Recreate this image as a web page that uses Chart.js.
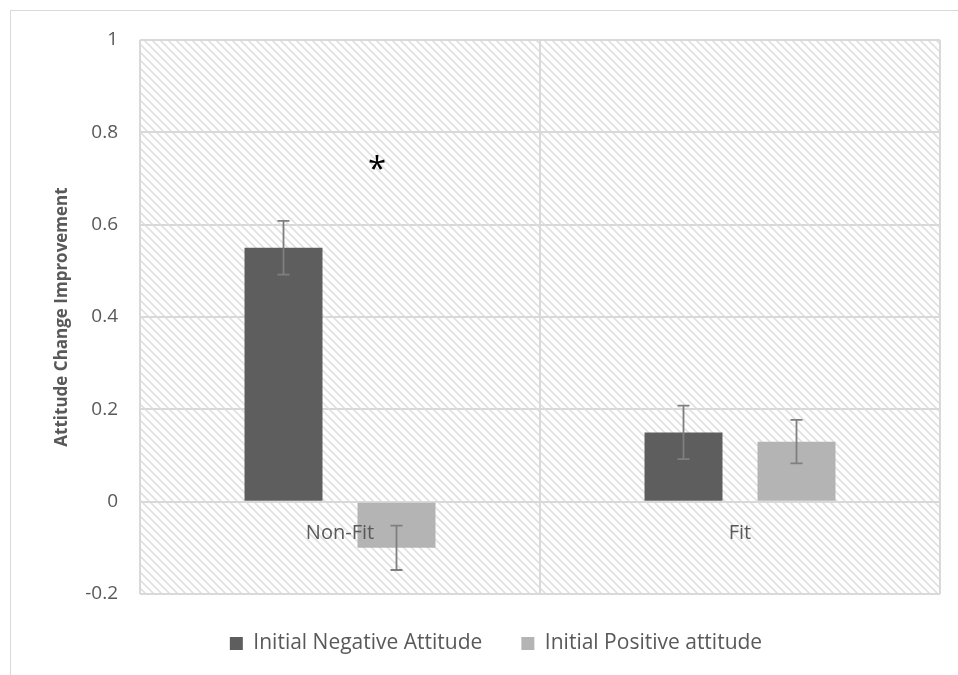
<!DOCTYPE html>
<html>
<head>
<meta charset="utf-8">
<script src="https://cdn.jsdelivr.net/npm/chart.js@4"></script>
<style>
  html, body { margin: 0; padding: 0; background: #fff; }
  #wrap { position: relative; width: 958px; height: 675px; }
</style>
</head>
<body>
<div id="wrap"><canvas id="myChart" width="958" height="675"></canvas></div>
<script>
// groups and means
const categories = ['Non-Fit', 'Fit'];
const negativeMeans = [0.55, 0.15];
const positiveMeans = [-0.1, 0.13];
// error bar half-widths
const negativeErrors = [0.058, 0.058];
const positiveErrors = [0.048, 0.047];
const yTicks = [-0.2, 0, 0.2, 0.4, 0.6, 0.8, 1];
// significance marker above the Non-Fit pair
const sigMarks = [{ category: 0, value: 0.735, text: '*' }];

const textColor = '#595959';
const gridColor = '#d9d9d9';
const fontFamily = "'Open Sans', 'Noto Sans', sans-serif";

// diagonal hatch tile for the plot area
const makeHatch = (ctx) => {
  const tile = document.createElement('canvas');
  tile.width = 8;
  tile.height = 8;
  const t = tile.getContext('2d');
  t.fillStyle = '#ffffff';
  t.fillRect(0, 0, 8, 8);
  t.strokeStyle = '#e0e0e0';
  t.lineWidth = 1.6;
  t.beginPath();
  t.moveTo(-2, -2); t.lineTo(10, 10);
  t.moveTo(-2, 6); t.lineTo(2, 10);
  t.moveTo(6, -2); t.lineTo(10, 2);
  t.stroke();
  return ctx.createPattern(tile, 'repeat');
};

const backdrop = {
  id: 'backdrop',
  beforeDraw(chart) {
    const { ctx, chartArea: a } = chart;
    ctx.save();
    ctx.strokeStyle = gridColor;
    ctx.lineWidth = 1;
    ctx.strokeRect(10.5, 10.5, 1200, 1200);
    ctx.fillStyle = makeHatch(ctx);
    ctx.fillRect(a.left, a.top, a.right - a.left, a.bottom - a.top);
    ctx.restore();
  }
};

const extras = {
  id: 'extras',
  afterDatasetsDraw(chart) {
    const { ctx } = chart;
    const y = chart.scales.y;
    const x = chart.scales.x;
    const errs = [negativeErrors, positiveErrors];
    ctx.save();
    ctx.strokeStyle = '#7f7f7f';
    ctx.lineWidth = 1.8;
    chart.data.datasets.forEach((ds, di) => {
      chart.getDatasetMeta(di).data.forEach((bar, i) => {
        const v = ds.data[i];
        const e = errs[di][i];
        const top = y.getPixelForValue(v + e);
        const bot = y.getPixelForValue(v - e);
        ctx.beginPath();
        ctx.moveTo(bar.x, top); ctx.lineTo(bar.x, bot);
        ctx.moveTo(bar.x - 6, top); ctx.lineTo(bar.x + 6, top);
        ctx.moveTo(bar.x - 6, bot); ctx.lineTo(bar.x + 6, bot);
        ctx.stroke();
      });
    });
    // category labels sit just under the zero line
    ctx.fillStyle = textColor;
    ctx.font = '20px ' + fontFamily;
    ctx.textAlign = 'center';
    ctx.textBaseline = 'middle';
    const zero = y.getPixelForValue(0);
    categories.forEach((c, i) => {
      ctx.fillText(c, x.getPixelForValue(i), zero + 32);
    });
    ctx.fillStyle = '#000';
    ctx.font = '500 33px ' + fontFamily;
    sigMarks.forEach(m => {
      ctx.fillText(m.text, x.getPixelForValue(m.category) + 37, y.getPixelForValue(m.value) + 8);
    });
    ctx.restore();
  }
};

new Chart(document.getElementById('myChart').getContext('2d'), {
  type: 'bar',
  data: {
    labels: categories,
    datasets: [
      {
        label: 'Initial Negative Attitude',
        data: negativeMeans,
        backgroundColor: '#5e5e5e',
        categoryPercentage: 0.565,
        barPercentage: 0.69
      },
      {
        label: 'Initial Positive attitude',
        data: positiveMeans,
        backgroundColor: '#b4b4b4',
        categoryPercentage: 0.565,
        barPercentage: 0.69
      }
    ]
  },
  options: {
    responsive: false,
    animation: false,
    layout: { padding: { left: 52, top: 40, right: 18, bottom: 11 } },
    plugins: {
      tooltip: { enabled: false },
      legend: {
        position: 'bottom',
        labels: {
          color: textColor,
          font: { family: fontFamily, size: 21 },
          boxWidth: 13,
          boxHeight: 13,
          padding: 39
        }
      }
    },
    scales: {
      x: {
        ticks: { display: false },
        grid: { color: gridColor, lineWidth: 2, drawTicks: false, offset: true },
        border: { display: false },
        afterFit: (scale) => { scale.height = 0; }
      },
      y: {
        min: -0.2,
        max: 1,
        afterBuildTicks: (scale) => { scale.ticks = yTicks.map(v => ({ value: v })); },
        afterFit: (scale) => { scale.width = 88; },
        ticks: {
          color: textColor,
          font: { family: fontFamily, size: 19 },
          padding: 22,
          callback: (v) => String(Math.round(v * 10) / 10)
        },
        grid: { color: gridColor, lineWidth: 2, drawTicks: false },
        border: { display: false },
        title: {
          display: true,
          text: 'Attitude Change Improvement',
          color: textColor,
          font: { family: fontFamily, size: 17, weight: 'bold' },
          padding: { top: 0, bottom: 0 }
        }
      }
    }
  },
  plugins: [backdrop, extras]
});
</script>
</body>
</html>
